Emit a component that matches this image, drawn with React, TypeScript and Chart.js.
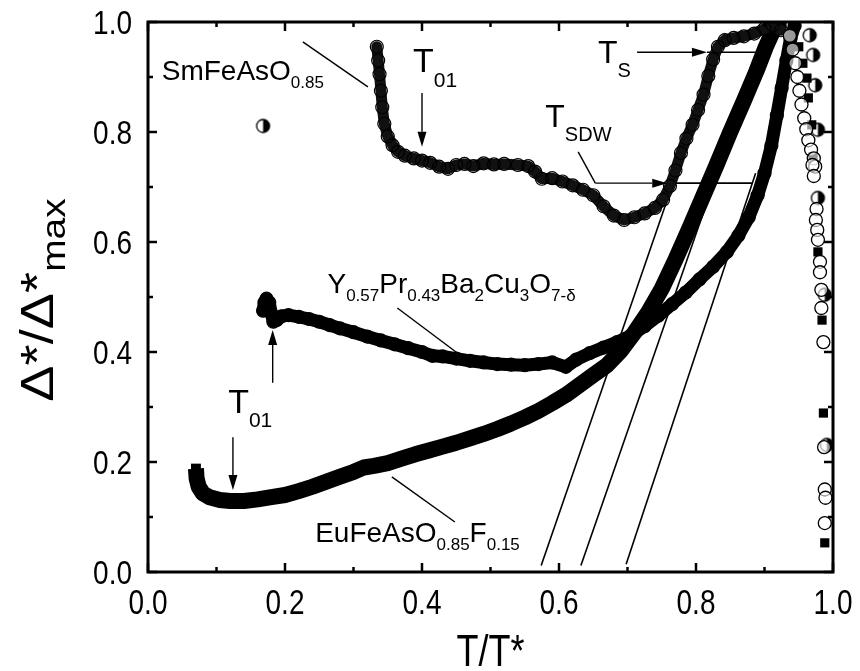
import React, { useEffect, useRef } from 'react';
import { Chart, registerables } from 'chart.js';

Chart.register(...registerables);

const FONT = '"Liberation Sans", Arial, Helvetica, sans-serif';

type P = [number, number];

// axis ticks
const xMajorTicks = [0, 0.2, 0.4, 0.6, 0.8, 1.0];
const yMajorTicks = [0, 0.2, 0.4, 0.6, 0.8, 1.0];
const xMinorTicks = [0.1, 0.3, 0.5, 0.7, 0.9];
const yMinorTicks = [0.1, 0.3, 0.5, 0.7, 0.9];

// SmFeAsO0.85
const smFeAsO: P[] = [
  [0.334, 0.955], [0.336, 0.93], [0.338, 0.905], [0.340, 0.875], [0.342, 0.845],
  [0.345, 0.815], [0.350, 0.792], [0.357, 0.776], [0.365, 0.764], [0.375, 0.757],
  [0.388, 0.752], [0.400, 0.748], [0.412, 0.744], [0.425, 0.737], [0.438, 0.733],
  [0.450, 0.740], [0.462, 0.742], [0.475, 0.738], [0.490, 0.743], [0.505, 0.741],
  [0.520, 0.742], [0.540, 0.740], [0.555, 0.738], [0.565, 0.728], [0.575, 0.715],
  [0.590, 0.716], [0.605, 0.710], [0.620, 0.703], [0.635, 0.695], [0.650, 0.685],
  [0.665, 0.665], [0.680, 0.648], [0.695, 0.640], [0.710, 0.645], [0.725, 0.652],
  [0.740, 0.662], [0.752, 0.677], [0.762, 0.702], [0.770, 0.730], [0.778, 0.762],
  [0.786, 0.788], [0.795, 0.813], [0.803, 0.840], [0.811, 0.868], [0.818, 0.902],
  [0.825, 0.932], [0.832, 0.955], [0.842, 0.967], [0.855, 0.971], [0.870, 0.974],
  [0.885, 0.979], [0.900, 0.988], [0.912, 0.994], [0.924, 0.985],
];

// Y0.57Pr0.43Ba2Cu3O7-δ
const yPrBaCuO: P[] = [
  [0.168, 0.475], [0.170, 0.490], [0.173, 0.497], [0.177, 0.490], [0.180, 0.470],
  [0.183, 0.455], [0.188, 0.458], [0.195, 0.465], [0.205, 0.467], [0.220, 0.464],
  [0.235, 0.460], [0.250, 0.455], [0.265, 0.449], [0.280, 0.443], [0.300, 0.436],
  [0.320, 0.428], [0.340, 0.421], [0.360, 0.414], [0.380, 0.407], [0.400, 0.400],
  [0.415, 0.393], [0.430, 0.392], [0.450, 0.388], [0.470, 0.384], [0.490, 0.381],
  [0.510, 0.378], [0.530, 0.377], [0.550, 0.376], [0.570, 0.378], [0.590, 0.381],
  [0.610, 0.373], [0.625, 0.386], [0.645, 0.398], [0.665, 0.408], [0.685, 0.418],
  [0.705, 0.430], [0.725, 0.447], [0.745, 0.466], [0.765, 0.487], [0.785, 0.508],
  [0.805, 0.532], [0.825, 0.555], [0.845, 0.582], [0.862, 0.612], [0.877, 0.645],
  [0.890, 0.685], [0.900, 0.725], [0.910, 0.775], [0.918, 0.830], [0.925, 0.880],
  [0.932, 0.930], [0.938, 0.970], [0.944, 0.993],
];

// EuFeAsO0.85F0.15
const euFeAsOF: P[] = [
  [0.070, 0.188], [0.071, 0.170], [0.074, 0.155], [0.080, 0.143], [0.090, 0.136],
  [0.105, 0.131], [0.120, 0.129], [0.140, 0.129], [0.160, 0.132], [0.180, 0.136],
  [0.200, 0.140], [0.220, 0.147], [0.240, 0.155], [0.260, 0.164], [0.280, 0.173],
  [0.300, 0.182], [0.315, 0.190], [0.330, 0.193], [0.350, 0.198], [0.370, 0.206],
  [0.390, 0.214], [0.410, 0.221], [0.430, 0.228], [0.450, 0.235], [0.470, 0.243],
  [0.490, 0.251], [0.510, 0.260], [0.530, 0.270], [0.550, 0.281], [0.570, 0.293],
  [0.590, 0.307], [0.610, 0.322], [0.630, 0.340], [0.650, 0.358], [0.670, 0.376],
  [0.690, 0.402], [0.710, 0.435], [0.730, 0.472], [0.750, 0.515], [0.770, 0.568],
  [0.790, 0.624], [0.810, 0.682], [0.830, 0.740], [0.850, 0.800], [0.870, 0.857],
  [0.888, 0.910], [0.902, 0.955], [0.914, 0.988], [0.925, 1.000],
];

// high-temperature fall-off above the maxima
const fallOpen: P[] = [
  [0.937, 0.975], [0.941, 0.950], [0.945, 0.925], [0.948, 0.900], [0.951, 0.875],
  [0.954, 0.850], [0.958, 0.825], [0.961, 0.805], [0.964, 0.785], [0.968, 0.768],
  [0.972, 0.752], [0.974, 0.737], [0.970, 0.740], [0.972, 0.720], [0.976, 0.660],
  [0.975, 0.640], [0.977, 0.622], [0.978, 0.604], [0.981, 0.564], [0.981, 0.545],
  [0.983, 0.513], [0.983, 0.480], [0.986, 0.418], [0.987, 0.227], [0.988, 0.150],
  [0.989, 0.135], [0.988, 0.089],
];
const fallSquare: P[] = [
  [0.950, 0.955], [0.956, 0.925], [0.962, 0.898], [0.964, 0.862], [0.969, 0.813],
  [0.971, 0.755], [0.978, 0.582], [0.984, 0.458], [0.986, 0.289], [0.988, 0.053],
];
const fallHalf: P[] = [
  [0.966, 0.976], [0.971, 0.940], [0.974, 0.885], [0.978, 0.804], [0.978, 0.680],
  [0.988, 0.504], [0.991, 0.231],
];
const strayHalf: P[] = [[0.168, 0.811]];

// linear extrapolations and transition markers
const tangentSm: P[] = [[0.574, 0.012], [0.842, 0.980]];
const tangentEu: P[] = [[0.632, 0.012], [0.860, 0.830]];
const tangentY: P[] = [[0.698, 0.014], [0.887, 0.725]];
const levelTs: P[] = [[0.816, 0.945], [0.889, 0.945]];
const levelTsdw: P[] = [[0.758, 0.707], [0.883, 0.707]];

// arrows: [from, to]
const arrowList: [P, P][] = [
  [[0.400, 0.871], [0.400, 0.773]],
  [[0.182, 0.344], [0.182, 0.440]],
  [[0.124, 0.245], [0.124, 0.149]],
  [[0.653, 0.707], [0.758, 0.707]],
  [[0.714, 0.945], [0.816, 0.945]],
];
// leader lines: [from, to]
const leaderList: [P, P][] = [
  [[0.226, 0.964], [0.321, 0.882]],
  [[0.364, 0.480], [0.455, 0.395]],
  [[0.356, 0.173], [0.448, 0.091]],
  [[0.628, 0.764], [0.653, 0.707]],
];

type Part = [string, number, number];
type Label = { at: P; parts: Part[] };
const labelList: Label[] = [
  { at: [0.020, 0.895], parts: [['SmFeAsO', 28, 0], ['0.85', 17, 8]] },
  { at: [0.387, 0.909], parts: [['T', 34, 0], ['01', 21, 15]] },
  { at: [0.117, 0.289], parts: [['T', 34, 0], ['01', 21, 14]] },
  { at: [0.580, 0.809], parts: [['T', 32, 0], ['SDW', 20, 14]] },
  { at: [0.657, 0.925], parts: [['T', 32, 0], ['S', 20, 14]] },
  {
    at: [0.262, 0.507],
    parts: [
      ['Y', 28, 0], ['0.57', 17, 8], ['Pr', 28, 0], ['0.43', 17, 8], ['Ba', 28, 0],
      ['2', 17, 8], ['Cu', 28, 0], ['3', 17, 8], ['O', 28, 0], ['7-δ', 17, 8],
    ],
  },
  {
    at: [0.244, 0.055],
    parts: [['EuFeAsO', 28, 0], ['0.85', 17, 8], ['F', 28, 0], ['0.15', 17, 8]],
  },
];

const toXY = (arr: P[]) => arr.map(([x, y]) => ({ x, y }));

function halfDisc(r: number): HTMLCanvasElement {
  const c = document.createElement('canvas');
  const s = Math.ceil(r * 2 + 4);
  c.width = s;
  c.height = s;
  const g = c.getContext('2d') as CanvasRenderingContext2D;
  const m = s / 2;
  g.fillStyle = '#fff';
  g.beginPath();
  g.arc(m, m, r, 0, Math.PI * 2);
  g.fill();
  g.fillStyle = '#000';
  g.beginPath();
  g.arc(m, m, r, -Math.PI / 2, Math.PI / 2);
  g.closePath();
  g.fill();
  g.beginPath();
  g.arc(m, m, r, 0, Math.PI * 2);
  g.lineWidth = 1.3;
  g.strokeStyle = '#000';
  g.stroke();
  return c;
}

function drawRich(ctx: CanvasRenderingContext2D, x: number, y: number, parts: Part[]) {
  let cx = x;
  for (const [t, size, dy] of parts) {
    ctx.font = `${size}px ${FONT}`;
    ctx.fillText(t, cx, y + dy);
    cx += ctx.measureText(t).width;
  }
}

// text drawn with a vertical stretch about its baseline
function tallText(ctx: CanvasRenderingContext2D, t: string, x: number, y: number, sy: number) {
  ctx.save();
  ctx.translate(x, y);
  ctx.scale(1, sy);
  ctx.fillText(t, 0, 0);
  ctx.restore();
}

const framePlugin = {
  id: 'frameAndNotes',
  afterDraw(chart: any) {
    const ctx: CanvasRenderingContext2D = chart.ctx;
    const { left, right, top, bottom } = chart.chartArea;
    const xs = chart.scales.x;
    const ys = chart.scales.y;
    const px = (v: number) => xs.getPixelForValue(v);
    const py = (v: number) => ys.getPixelForValue(v);
    ctx.save();
    ctx.strokeStyle = '#000';
    ctx.fillStyle = '#000';

    // frame
    ctx.lineWidth = 3;
    ctx.strokeRect(left, top, right - left, bottom - top);

    // inward ticks on all four sides
    ctx.lineWidth = 2.5;
    const seg = (x1: number, y1: number, x2: number, y2: number) => {
      ctx.beginPath();
      ctx.moveTo(x1, y1);
      ctx.lineTo(x2, y2);
      ctx.stroke();
    };
    const xt: [number, number][] = [
      ...xMajorTicks.map((v) => [v, 9] as [number, number]),
      ...xMinorTicks.map((v) => [v, 5] as [number, number]),
    ];
    for (const [v, len] of xt) {
      const x = px(v);
      seg(x, bottom, x, bottom - len);
      seg(x, top, x, top + len);
    }
    const yt: [number, number][] = [
      ...yMajorTicks.map((v) => [v, 9] as [number, number]),
      ...yMinorTicks.map((v) => [v, 5] as [number, number]),
    ];
    for (const [v, len] of yt) {
      const y = py(v);
      seg(left, y, left + len, y);
      seg(right, y, right - len, y);
    }

    // tick labels
    ctx.font = `28px ${FONT}`;
    ctx.textBaseline = 'alphabetic';
    ctx.textAlign = 'center';
    for (const v of xMajorTicks) tallText(ctx, v.toFixed(1), px(v), bottom + 42, 1.25);
    ctx.textAlign = 'right';
    for (const v of yMajorTicks) tallText(ctx, v.toFixed(1), left - 16, py(v) + 12, 1.2);

    // axis titles
    ctx.textAlign = 'center';
    ctx.font = `36px ${FONT}`;
    tallText(ctx, 'T/T*', (left + right) / 2, 666, 1.25);

    ctx.save();
    ctx.translate(53, 300);
    ctx.rotate(-Math.PI / 2);
    ctx.textAlign = 'left';
    const yParts: Part[] = [['Δ*/Δ*', 46, 0], ['max', 33, 12]];
    let w = 0;
    for (const [t, s] of yParts) {
      ctx.font = `${s}px ${FONT}`;
      w += ctx.measureText(t).width;
    }
    ctx.scale(1.18, 1);
    drawRich(ctx, -w / 2, 0, yParts);
    ctx.restore();

    // leader lines
    ctx.lineWidth = 1.4;
    for (const [a, b] of leaderList) seg(px(a[0]), py(a[1]), px(b[0]), py(b[1]));

    // arrows
    for (const [a, b] of arrowList) {
      const x1 = px(a[0]);
      const y1 = py(a[1]);
      const x2 = px(b[0]);
      const y2 = py(b[1]);
      const ang = Math.atan2(y2 - y1, x2 - x1);
      const hl = 15;
      const hw = 4.5;
      const bx = x2 - hl * Math.cos(ang);
      const by = y2 - hl * Math.sin(ang);
      seg(x1, y1, bx, by);
      ctx.beginPath();
      ctx.moveTo(x2, y2);
      ctx.lineTo(bx + hw * Math.sin(ang), by - hw * Math.cos(ang));
      ctx.lineTo(bx - hw * Math.sin(ang), by + hw * Math.cos(ang));
      ctx.closePath();
      ctx.fill();
    }

    // labels
    ctx.textAlign = 'left';
    for (const lab of labelList) drawRich(ctx, px(lab.at[0]), py(lab.at[1]), lab.parts);

    ctx.restore();
  },
};

export default function App() {
  const ref = useRef<HTMLCanvasElement | null>(null);

  useEffect(() => {
    if (!ref.current) return;
    const half = halfDisc(6.5);
    const thin = (data: P[]) => ({
      data: toXY(data),
      showLine: true,
      borderColor: '#000',
      borderWidth: 1.6,
      pointRadius: 0,
      order: 5,
    });
    const chart = new Chart(ref.current, {
      type: 'scatter',
      data: {
        datasets: [
          {
            data: toXY(smFeAsO),
            showLine: true,
            borderColor: '#111',
            borderWidth: 11,
            borderJoinStyle: 'round',
            borderCapStyle: 'round',
            pointStyle: 'circle',
            pointRadius: 6.5,
            pointBorderWidth: 1.2,
            pointBorderColor: '#000',
            pointBackgroundColor: 'rgba(0,0,0,0)',
            order: 1,
          },
          {
            data: toXY(yPrBaCuO),
            showLine: true,
            borderColor: '#000',
            borderWidth: 13,
            borderJoinStyle: 'round',
            borderCapStyle: 'round',
            pointStyle: 'circle',
            pointRadius: 6.5,
            pointBorderWidth: 1.2,
            pointBorderColor: '#000',
            pointBackgroundColor: 'rgba(0,0,0,0)',
            order: 2,
          },
          {
            data: toXY(euFeAsOF),
            showLine: true,
            borderColor: '#000',
            borderWidth: 16,
            borderJoinStyle: 'round',
            borderCapStyle: 'butt',
            pointStyle: 'rect',
            pointRadius: 7,
            pointBorderWidth: 0,
            pointBackgroundColor: '#000',
            order: 3,
          },
          {
            data: toXY(fallOpen),
            showLine: false,
            pointStyle: 'circle',
            pointRadius: 6.5,
            pointBorderWidth: 1.3,
            pointBorderColor: '#000',
            pointBackgroundColor: 'rgba(255,255,255,0.6)',
            order: 0,
          },
          {
            data: toXY(fallSquare),
            showLine: false,
            pointStyle: 'rect',
            pointRadius: 6.5,
            pointBorderWidth: 0,
            pointBackgroundColor: '#000',
            order: 0,
          },
          {
            data: toXY(fallHalf),
            showLine: false,
            pointStyle: half,
            order: 0,
          },
          {
            data: toXY(strayHalf),
            showLine: false,
            pointStyle: half,
            order: 0,
          },
          thin(tangentSm),
          thin(tangentEu),
          thin(tangentY),
          thin(levelTs),
          thin(levelTsdw),
        ],
      },
      options: {
        responsive: false,
        animation: false,
        events: [],
        layout: { padding: { left: 0, right: 27, top: 22, bottom: 0 } },
        plugins: { legend: { display: false }, tooltip: { enabled: false } },
        scales: {
          x: {
            type: 'linear',
            min: 0,
            max: 1,
            grid: { display: false },
            border: { display: false },
            ticks: { display: false },
            afterFit: (s: any) => {
              s.height = 99;
            },
          },
          y: {
            type: 'linear',
            min: 0,
            max: 1,
            grid: { display: false },
            border: { display: false },
            ticks: { display: false },
            afterFit: (s: any) => {
              s.width = 148;
            },
          },
        },
      },
      plugins: [framePlugin],
    } as any);
    return () => chart.destroy();
  }, []);

  return (
    <div style={{ position: 'absolute', left: 0, top: 0, width: 860, height: 671, background: '#fff' }}>
      <canvas ref={ref} width={860} height={671} />
    </div>
  );
}
